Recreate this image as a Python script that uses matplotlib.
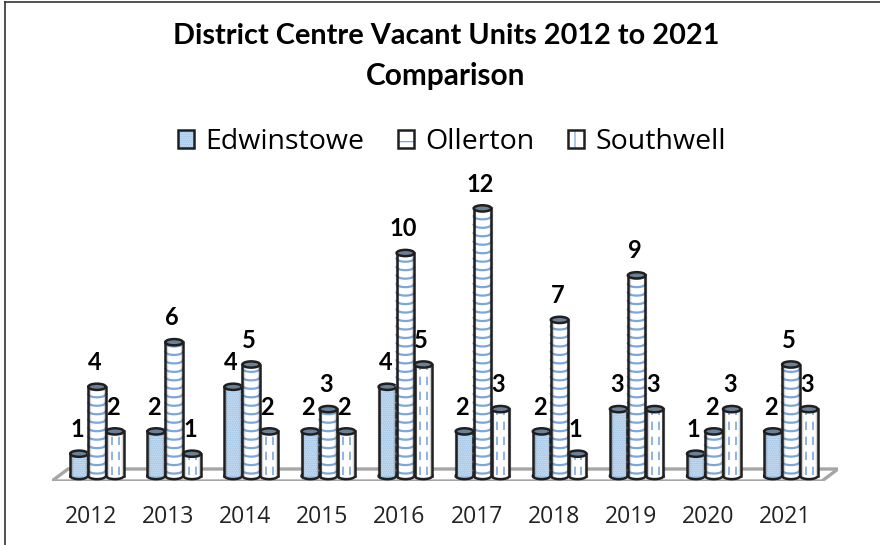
import numpy as np
import matplotlib
matplotlib.use('Agg')
import matplotlib.pyplot as plt
from matplotlib.legend_handler import HandlerTuple
from matplotlib.lines import Line2D
from matplotlib.patches import Ellipse, Patch, Polygon, Rectangle

years = ["2012", "2013", "2014", "2015", "2016", "2017", "2018", "2019", "2020", "2021"]
edwinstowe = [1, 2, 4, 2, 4, 2, 2, 3, 1, 2]
ollerton = [4, 6, 5, 3, 10, 12, 7, 9, 2, 5]
southwell = [2, 1, 2, 2, 5, 3, 1, 3, 3, 3]

BLUE = "#9dc3e6"
STRIPE = "#7ba7dc"
DARK = "#1f1f1f"
W = 880
H = 545
BAR_W = 0.228
ELL_H = 0.28

plt.rcParams["hatch.linewidth"] = 0.9

fig = plt.figure(figsize=(8.8, 5.45), dpi=100)
ax = fig.add_axes([52 / W, 1 - 481 / H, (838 - 52) / W, 280 / H])
px_x = 77.1
px_y = 22.3
ax.set_xlim((52 - 97) / px_x, (838 - 97) / px_x)
ax.set_ylim((475 - 480) / px_y, (475 - 200) / px_y)
ax.patch.set_visible(False)
for s in ax.spines.values():
    s.set_visible(False)
ax.set_yticks([])

# floor of the 3d plot
floor = Polygon([(0, 0), (16 / 786, 12 / 280), (1, 12 / 280), (770 / 786, 0)],
                closed=True, transform=ax.transAxes, facecolor="white",
                edgecolor="#a6a6a6", lw=2.4, zorder=1)
ax.add_patch(floor)


def cylinder(x, v, kind, z):
    col = BLUE if kind == "dots" else "white"
    ax.add_patch(Ellipse((x, 0), BAR_W, ELL_H, fc=col, ec=DARK, lw=1.8, zorder=z))
    body = Rectangle((x - BAR_W / 2, 0), BAR_W, v, fc=col, ec="none", zorder=z)
    ax.add_patch(body)
    if kind == "dots":
        ax.add_patch(Rectangle((x - BAR_W / 2, 0), BAR_W, v, fc="none", ec="#dbe8f6",
                               hatch="........", lw=0, zorder=z))
    elif kind == "stripes":
        t = np.linspace(-1, 1, 25)
        for yy in np.arange(0.2, v - 0.05, 0.38):
            ax.plot(x + t * BAR_W / 2, yy - np.sqrt(1 - t ** 2) * ELL_H / 2 + 0.05,
                    color=STRIPE, lw=1.6, zorder=z)
    else:
        for off in (-0.04, 0.05):
            ax.plot([x + off, x + off], [0.05, v - 0.1], color=STRIPE, lw=1.2,
                    ls=(0, (5, 4)), zorder=z)
    for side in (-1, 1):
        # soft shading inside the cylinder edge, then the outline
        ax.plot([x + side * BAR_W * 0.46] * 2, [0, v], color="#555555", lw=2.5, alpha=0.25, zorder=z)
        ax.plot([x + side * BAR_W / 2] * 2, [0, v], color=DARK, lw=1.8, zorder=z)
    ax.add_patch(Ellipse((x, v), BAR_W, ELL_H, fc="#6b8198", ec=DARK, lw=1.8, zorder=z))


series = [(edwinstowe, "dots", -18 / px_x), (ollerton, "stripes", 0), (southwell, "dash", 18 / px_x)]
xs = np.arange(len(years))
for vals, kind, off in series:
    for i, v in zip(xs, vals):
        cylinder(i + off, v, kind, 3 + 0.01 * i)

for vals, kind, off in series:
    for i, v in zip(xs, vals):
        ax.annotate(str(v), (i + off, v), xytext=(-1.5, 17.5), textcoords="offset points",
                    ha="center", va="center", fontsize=17, fontweight="bold",
                    family="Lato", color="black", zorder=10)

ax.set_xticks(xs - 6 / px_x)
ax.set_xticklabels(years, fontsize=16.5, family="Open Sans", color="#222222")
ax.tick_params(axis="x", length=0, pad=17)

fig.text(446 / W, 1 - 35.5 / H, "District Centre Vacant Units 2012 to 2021", ha="center",
         va="center", fontsize=20.8, fontweight="bold", family="Lato")
fig.text(446 / W, 1 - 75.5 / H, "Comparison", ha="center", va="center", fontsize=21.4,
         fontweight="bold", family="Lato")

handles = [
    (Patch(fc=BLUE, ec="#dbe8f6", hatch="........", lw=0), Patch(fc="none", ec=DARK, lw=1.8)),
    (Patch(fc="white", ec=STRIPE, hatch="-", lw=0), Patch(fc="none", ec=DARK, lw=1.8)),
    (Patch(fc="white", ec=STRIPE, hatch="|", lw=0), Patch(fc="none", ec=DARK, lw=1.8)),
]
fig.legend(handles, ["Edwinstowe", "Ollerton", "Southwell"], loc="center",
           bbox_to_anchor=(452 / W, 1 - 142 / H), ncol=3, frameon=False,
           handler_map={tuple: HandlerTuple(ndivide=1, pad=0)},
           prop={"family": "Open Sans", "size": 20.5}, handlelength=0.56,
           handleheight=0.56, handletextpad=0.38, columnspacing=1.2)

# frame of the screenshot, top and left only
fig.add_artist(Line2D([5 / W, 5 / W], [0, 1 - 2 / H], color="#333333", lw=1.2))
fig.add_artist(Line2D([5 / W, 1], [1 - 2 / H, 1 - 2 / H], color="#333333", lw=1.2))

fig.savefig("out.png", dpi=100)
